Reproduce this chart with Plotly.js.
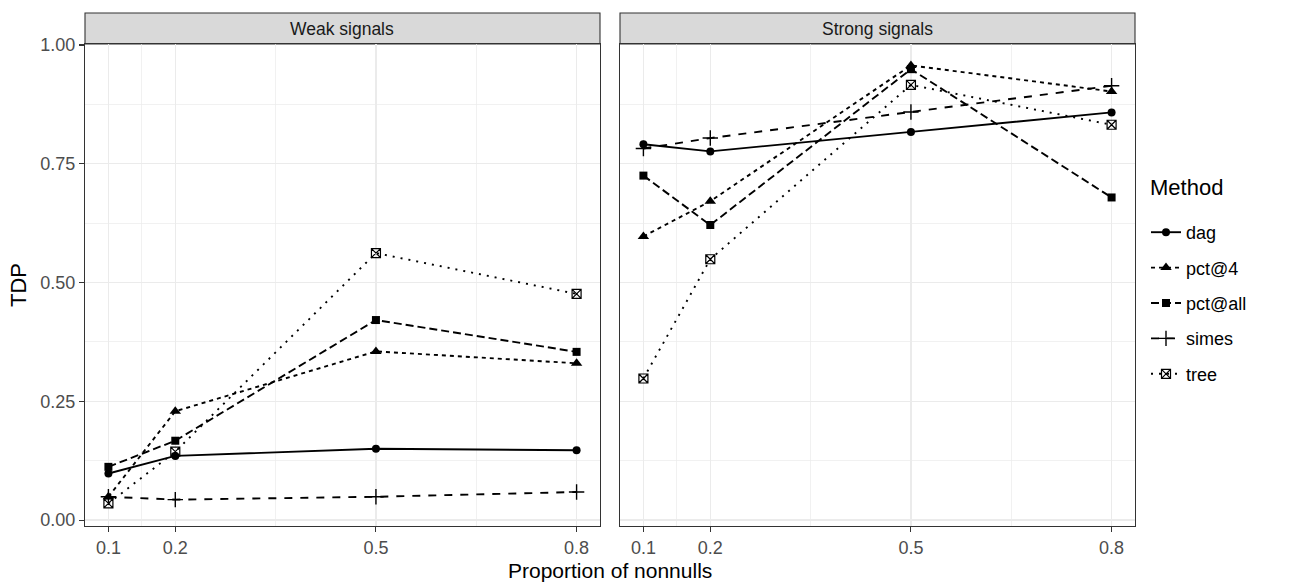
<!DOCTYPE html>
<html>
<head>
<meta charset="utf-8">
<script src="https://cdn.plot.ly/plotly-3.0.1.min.js"></script>
<style>html,body{margin:0;padding:0;background:#fff;} #chart{width:1297px;height:583px;}</style>
</head>
<body>
<div id="chart"></div>
<script>
// ---- data ----
const proportions = [0.1, 0.2, 0.5, 0.8];
const methods = ["dag", "pct@4", "pct@all", "simes", "tree"];
const panels = ["Weak signals", "Strong signals"];

const weak_dag    = [0.098, 0.135, 0.150, 0.147];
const weak_pct4   = [0.049, 0.229, 0.355, 0.330];
const weak_pctall = [0.112, 0.167, 0.421, 0.354];
const weak_simes  = [0.049, 0.043, 0.049, 0.059];
const weak_tree   = [0.035, 0.144, 0.562, 0.476];

const strong_dag    = [0.791, 0.776, 0.817, 0.858];
const strong_pct4   = [0.597, 0.671, 0.957, 0.902];
const strong_pctall = [0.725, 0.621, 0.949, 0.679];
const strong_simes  = [0.782, 0.804, 0.859, 0.914];
const strong_tree   = [0.298, 0.549, 0.916, 0.832];

const xTickVals = [0.1, 0.2, 0.5, 0.8];
const xTickText = ["0.1", "0.2", "0.5", "0.8"];
const yTickVals = [0, 0.25, 0.5, 0.75, 1];
const yTickText = ["0.00", "0.25", "0.50", "0.75", "1.00"];

// ---- styles ----
const W = 1297, H = 583;
const FONT = "Liberation Sans, Arial, Helvetica, sans-serif";
const styles = {
  "dag":     {dash: "solid",        symbol: "circle",          size: 8,  mlw: 0},
  "pct@4":   {dash: "4px,4px",      symbol: "triangle-up",     size: 10, mlw: 0},
  "pct@all": {dash: "8px,4px",      symbol: "square",          size: 8,  mlw: 0},
  "simes":   {dash: "8px,8px",      symbol: "cross-thin-open", size: 11, mlw: 1.4},
  "tree":    {dash: "2px,6px",      symbol: "square-x-open",   size: 9,  mlw: 1.2}
};

const weakData = [weak_dag, weak_pct4, weak_pctall, weak_simes, weak_tree];
const strongData = [strong_dag, strong_pct4, strong_pctall, strong_simes, strong_tree];

const traces = [];
[weakData, strongData].forEach((set, p) => {
  set.forEach((vals, i) => {
    const m = methods[i], s = styles[m];
    traces.push({
      type: "scatter", mode: "lines+markers",
      x: proportions, y: vals,
      xaxis: p === 0 ? "x" : "x2", yaxis: p === 0 ? "y" : "y2",
      name: m, legendgroup: m, showlegend: p === 0,
      line: {color: "#000000", width: 1.9, dash: s.dash},
      marker: {color: "#000000", symbol: s.symbol, size: s.size,
               line: {color: "#000000", width: s.mlw}},
      hoverinfo: "x+y+name"
    });
  });
});

// pixel helpers
const px = v => v / W;
const py = v => (H - v) / H;

const panelTop = 44, panelBot = 526;
const xDom1 = [px(85), px(600)];
const xDom2 = [px(620), px(1135)];
const yDom = [py(panelBot), py(panelTop)];

const xBase = {
  range: [0.065, 0.835],
  tickvals: xTickVals, ticktext: xTickText,
  ticks: "outside", ticklen: 5, tickwidth: 1.1, tickcolor: "#333333",
  tickfont: {family: FONT, size: 18, color: "#4d4d4d"},
  showgrid: true, gridcolor: "#ebebeb", gridwidth: 1.4,
  minor: {tickvals: [0.15, 0.35, 0.65], showgrid: true, gridcolor: "#ebebeb", gridwidth: 0.7, ticks: ""},
  showline: true, mirror: true, linecolor: "#333333", linewidth: 1.1,
  zeroline: false, fixedrange: true
};
const yBase = {
  range: [-0.0125, 1.002],
  domain: yDom,
  tickvals: yTickVals, ticktext: yTickText,
  tickfont: {family: FONT, size: 18, color: "#4d4d4d"},
  showgrid: true, gridcolor: "#ebebeb", gridwidth: 1.4,
  minor: {tickvals: [0.125, 0.375, 0.625, 0.875], showgrid: true, gridcolor: "#ebebeb", gridwidth: 0.7, ticks: ""},
  showline: true, mirror: true, linecolor: "#333333", linewidth: 1.1,
  zeroline: false, fixedrange: true
};

const layout = {
  width: W, height: H,
  margin: {l: 0, r: 0, t: 0, b: 0},
  paper_bgcolor: "#ffffff", plot_bgcolor: "#ffffff",
  font: {family: FONT, color: "#000000"},
  xaxis: Object.assign({}, xBase, {domain: xDom1, anchor: "y"}),
  xaxis2: Object.assign({}, xBase, {domain: xDom2, anchor: "y2"}),
  yaxis: Object.assign({}, yBase, {anchor: "x", ticks: "outside", ticklen: 5, tickwidth: 1.1, tickcolor: "#333333", showticklabels: true}),
  yaxis2: Object.assign({}, yBase, {anchor: "x2", ticks: "", showticklabels: false}),
  showlegend: true,
  legend: {
    x: px(1146), y: py(214), xanchor: "left", yanchor: "top",
    font: {family: FONT, size: 18, color: "#000000"},
    tracegroupgap: 9, itemwidth: 30,
    bgcolor: "rgba(0,0,0,0)"
  },
  shapes: [
    {type: "rect", xref: "paper", yref: "paper", x0: xDom1[0], x1: xDom1[1], y0: py(panelTop), y1: py(13),
     fillcolor: "#d9d9d9", line: {color: "#333333", width: 1.1}, layer: "below"},
    {type: "rect", xref: "paper", yref: "paper", x0: xDom2[0], x1: xDom2[1], y0: py(panelTop), y1: py(13),
     fillcolor: "#d9d9d9", line: {color: "#333333", width: 1.1}, layer: "below"}
  ],
  annotations: [
    {text: panels[0], xref: "paper", yref: "paper", x: (xDom1[0] + xDom1[1]) / 2, y: py(28.5),
     xanchor: "center", yanchor: "middle", showarrow: false, font: {family: FONT, size: 17.5, color: "#1a1a1a"}},
    {text: panels[1], xref: "paper", yref: "paper", x: (xDom2[0] + xDom2[1]) / 2, y: py(28.5),
     xanchor: "center", yanchor: "middle", showarrow: false, font: {family: FONT, size: 17.5, color: "#1a1a1a"}},
    {text: "Proportion of nonnulls", xref: "paper", yref: "paper", x: px(610), y: py(570),
     xanchor: "center", yanchor: "middle", showarrow: false, font: {family: FONT, size: 21, color: "#000000"}},
    {text: "TDP", xref: "paper", yref: "paper", x: px(18), y: py(285), textangle: -90,
     xanchor: "center", yanchor: "middle", showarrow: false, font: {family: FONT, size: 22, color: "#000000"}},
    {text: "Method", xref: "paper", yref: "paper", x: px(1148), y: py(188),
     xanchor: "left", yanchor: "middle", showarrow: false, font: {family: FONT, size: 22, color: "#000000"}}
  ]
};

Plotly.newPlot("chart", traces, layout, {displayModeBar: false, staticPlot: true});
</script>
</body>
</html>
